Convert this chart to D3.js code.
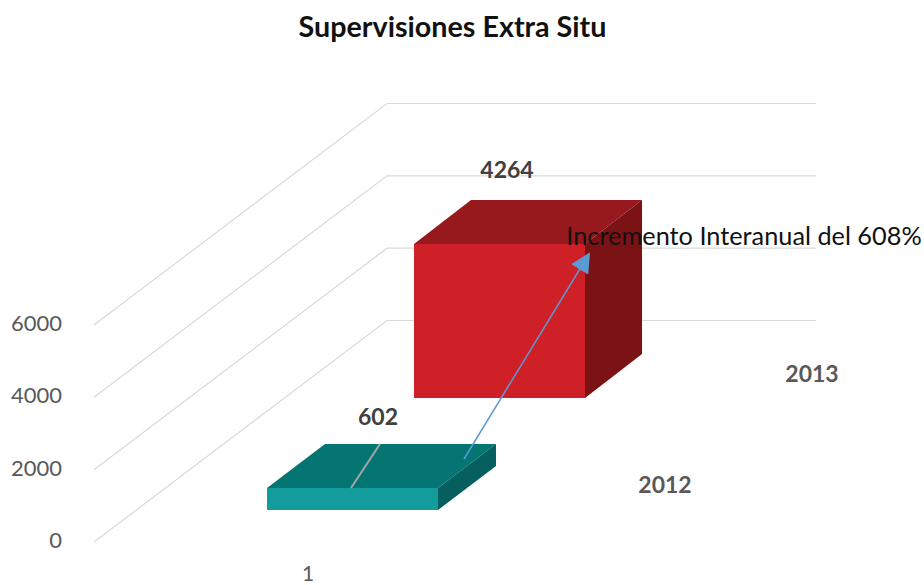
<!DOCTYPE html>
<html><head><meta charset="utf-8"><script src="https://cdn.jsdelivr.net/npm/d3@7/dist/d3.min.js"></script>
<style>html,body{margin:0;background:#fff}svg{display:block}text{font-family:Lato,"Open Sans",sans-serif}</style></head>
<body><svg id="c" width="924" height="585"></svg>
<script>
const tickValues=[0,2000,4000,6000];
const seriesNames=["2012","2013"];
const seriesValues=[602,4264];
const categories=["1"];
const colors=[{front:"#129c9c",top:"#047573",side:"#045f5e"},{front:"#cf2027",top:"#98191d",side:"#7b1214"}];
const title="Supervisiones Extra Situ";
const note="Incremento Interanual del 608%";

const svg=d3.select("#c");
const y=d3.scaleLinear().domain([0,6000]).range([542,325]);
const depthX=d3.scaleLinear().domain([0,1]).range([0,293]);
const depthY=d3.scaleLinear().domain([0,1]).range([0,-221.5]);
const gridRight=d3.scaleLinear().domain([0,1]).range([387,816]);

tickValues.forEach(t=>{
  const y0=y(t);
  svg.append("path").attr("d",d3.line()([[94,y0],[94+depthX(1),y0+depthY(1)],[gridRight(1),y0+depthY(1)]]))
    .attr("fill","none").attr("stroke","#d9d9d9").attr("stroke-width",1.2);
  svg.append("text").attr("x",62).attr("y",y0+6).attr("text-anchor","end").attr("font-size",22)
    .attr("fill","#595959").text(d3.format("d")(t));
});

const bars=[
 {x:267,w:171,base:510,dx:58,dy:-44},
 {x:414,w:171,base:398,dx:57,dy:-44}
];
const hScale=d3.scaleLinear().domain([0,4264]).range([0,154]);
const line=d3.line();
seriesValues.forEach((v,i)=>{
  const b=bars[i],c=colors[i],h=Math.max(hScale(v),22),t=b.base-h;
  svg.append("path").attr("d",line([[b.x,t],[b.x+b.dx,t+b.dy],[b.x+b.w+b.dx,t+b.dy],[b.x+b.w,t]])+"Z").attr("fill",c.top);
  svg.append("path").attr("d",line([[b.x+b.w,t],[b.x+b.w+b.dx,t+b.dy],[b.x+b.w+b.dx,b.base+b.dy],[b.x+b.w,b.base]])+"Z").attr("fill",c.side);
  svg.append("rect").attr("x",b.x).attr("y",t).attr("width",b.w).attr("height",h).attr("fill",c.front);
});

svg.append("line").attr("x1",351).attr("y1",488).attr("x2",380).attr("y2",444).attr("stroke","#a6a6a6").attr("stroke-width",2);
svg.append("text").attr("x",378).attr("y",425).attr("text-anchor","middle").attr("font-size",23).attr("font-weight",700).attr("fill","#404040").text(seriesValues[0]);
svg.append("text").attr("x",507).attr("y",178).attr("text-anchor","middle").attr("font-size",23).attr("font-weight",700).attr("fill","#404040").text(seriesValues[1]);
svg.append("text").attr("x",665).attr("y",493).attr("text-anchor","middle").attr("font-size",23).attr("font-weight",700).attr("fill","#595959").text(seriesNames[0]);
svg.append("text").attr("x",812).attr("y",382).attr("text-anchor","middle").attr("font-size",23).attr("font-weight",700).attr("fill","#595959").text(seriesNames[1]);
svg.append("text").attr("x",308).attr("y",581).attr("text-anchor","middle").attr("font-size",21).attr("fill","#595959").text(categories[0]);
svg.append("text").attr("x",452.5).attr("y",37).attr("text-anchor","middle").attr("font-size",28.7).attr("font-weight",700).attr("fill","#111").text(title);

svg.append("defs").append("marker").attr("id","ah").attr("viewBox","0 0 10 10").attr("refX",9).attr("refY",5)
 .attr("markerUnits","userSpaceOnUse").attr("markerWidth",20).attr("markerHeight",20).attr("orient","auto")
 .append("path").attr("d","M0,0L10,5L0,10Z").attr("fill","#5b9bd5");
svg.append("line").attr("x1",464).attr("y1",459).attr("x2",589).attr("y2",254).attr("stroke","#5b9bd5").attr("stroke-width",1.5).attr("marker-end","url(#ah)");
svg.append("text").attr("x",744).attr("y",245).attr("text-anchor","middle").attr("font-size",25.3).attr("fill","#111").text(note);
</script></body></html>
